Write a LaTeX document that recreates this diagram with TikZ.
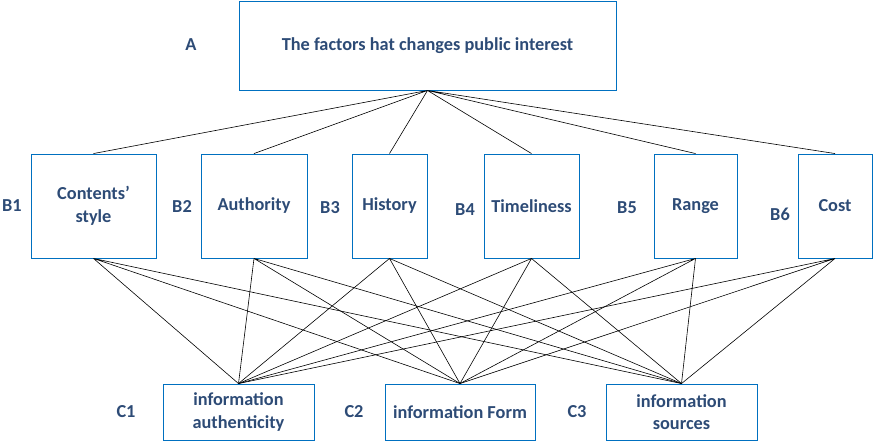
\documentclass[tikz,border=0pt]{standalone}
\usepackage{fontspec}
\setmainfont{Carlito}
\definecolor{boxblue}{RGB}{0,112,192}
\definecolor{textblue}{RGB}{45,75,118}

\begin{document}
\begin{tikzpicture}[
        x=1pt, y=-1pt,
        factor/.style={draw=boxblue, line width=0.9pt, inner sep=0pt, align=center,
            font=\fontsize{18.3}{22.5}\selectfont\bfseries, text=textblue},
        tag/.style={font=\fontsize{18.3}{22.5}\selectfont\bfseries, text=textblue},
        link/.style={black, line width=0.6pt}
    ]
        \useasboundingbox (0,0) rectangle (875,445);

        % Goal level
        \node[factor, minimum width=377pt, minimum height=89pt] (a) at (427.5, 45.5) {The factors hat changes public interest};
        \node[tag] (la) at (191, 45) {A};

        % Criteria level
        \node[factor, minimum width=125pt, minimum height=104pt] (b1) at (93.5, 206) {Contents’\\style};
        \node[factor, minimum width=106pt, minimum height=104pt] (b2) at (254, 206) {Authority};
        \node[factor, minimum width=75pt, minimum height=104pt] (b3) at (389.5, 206) {History};
        \node[factor, minimum width=95pt, minimum height=104pt] (b4) at (531.5, 206) {Timeliness};
        \node[factor, minimum width=83pt, minimum height=104pt] (b5) at (695.5, 206) {Range};
        \node[factor, minimum width=74pt, minimum height=104pt] (b6) at (835, 206) {Cost};
        \node[tag] (lb1) at (12, 206) {B1};
        \node[tag] (lb2) at (182, 206) {B2};
        \node[tag] (lb3) at (330, 208) {B3};
        \node[tag] (lb4) at (465, 210) {B4};
        \node[tag] (lb5) at (627, 208) {B5};
        \node[tag] (lb6) at (780, 214) {B6};

        % Alternative level
        \node[factor, minimum width=151pt, minimum height=56pt] (c1) at (238.5, 412) {information\\authenticity};
        \node[factor, minimum width=150pt, minimum height=56pt] (c2) at (460, 412) {information Form};
        \node[factor, minimum width=151pt, minimum height=56pt] (c3) at (681.5, 412) {information\\sources};
        \node[tag] (lc1) at (126, 412) {C1};
        \node[tag] (lc2) at (354, 412) {C2};
        \node[tag] (lc3) at (577, 412) {C3};

        % Goal to criteria
        \draw[link] (a.south) -- (b1.north) (a.south) -- (b2.north) (a.south) -- (b3.north);
        \draw[link] (a.south) -- (b4.north) (a.south) -- (b5.north) (a.south) -- (b6.north);

        % Criteria to alternatives
        \draw[link] (b1.south) -- (c1.north) (b1.south) -- (c2.north) (b1.south) -- (c3.north);
        \draw[link] (b2.south) -- (c1.north) (b2.south) -- (c2.north) (b2.south) -- (c3.north);
        \draw[link] (b3.south) -- (c1.north) (b3.south) -- (c2.north) (b3.south) -- (c3.north);
        \draw[link] (b4.south) -- (c1.north) (b4.south) -- (c2.north) (b4.south) -- (c3.north);
        \draw[link] (b5.south) -- (c1.north) (b5.south) -- (c2.north) (b5.south) -- (c3.north);
        \draw[link] (b6.south) -- (c1.north) (b6.south) -- (c2.north) (b6.south) -- (c3.north);
    \end{tikzpicture}
\end{document}
